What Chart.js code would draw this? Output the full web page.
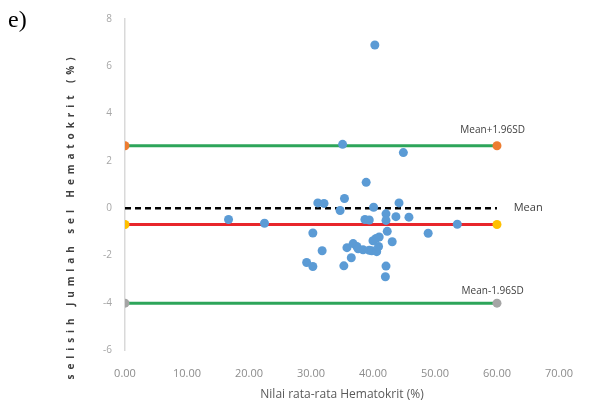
<!DOCTYPE html>
<html lang="en">
<head>
    <meta charset="UTF-8" />
    <title>Bland-Altman Hematokrit</title>
    <script src="https://cdn.jsdelivr.net/npm/chart.js"></script>
    <style>
        body { margin: 0; background: #ffffff; }
        #chart { display: block; }
    </style>
</head>
<body>
    <canvas id="chart" width="590" height="412"></canvas>

    <script>
        // rata-rata Hematokrit (x) dan selisih (y)
        const meanHct = [40.3, 35.1, 44.9, 38.9, 35.4, 31.1, 32.1, 34.7, 40.1, 44.2,
            42.1, 43.7, 45.8, 38.7, 39.4, 16.7, 22.5, 53.6, 42.1, 42.3,
            30.3, 48.9, 40.5, 41.0, 40.0, 43.1, 36.8, 35.8, 37.4, 37.6,
            38.4, 39.4, 39.8, 40.6, 40.9, 31.8, 36.5, 29.3, 30.3, 35.3,
            42.1, 42.0];
        const diffHct = [6.9, 2.7, 2.35, 1.09, 0.41, 0.22, 0.2, -0.1, 0.04, 0.22,
            -0.24, -0.36, -0.38, -0.48, -0.5, -0.48, -0.64, -0.68, -0.52, -0.98,
            -1.05, -1.06, -1.28, -1.22, -1.38, -1.42, -1.5, -1.67, -1.62, -1.72,
            -1.76, -1.78, -1.8, -1.84, -1.62, -1.8, -2.1, -2.3, -2.47, -2.44,
            -2.45, -2.9];

        const lineX = [0, 60];
        const meanDiff = -0.69;
        const upperLimit = 2.64;
        const lowerLimit = -4.02;
        const zeroLine = 0;

        const yTicks = [-6, -4, -2, 0, 2, 4, 6, 8];
        const xTicks = [0, 10, 20, 30, 40, 50, 60, 70];

        const points = meanHct.map((x, i) => ({ x: x, y: diffHct[i] }));
        const flat = v => lineX.map(x => ({ x: x, y: v }));

        const extras = {
            id: 'extras',
            afterDraw(chart) {
                const ctx = chart.ctx;
                const xs = chart.scales.x;
                const ys = chart.scales.y;
                ctx.save();

                ctx.fillStyle = '#000';
                ctx.font = '24px "Liberation Serif"';
                ctx.textBaseline = 'top';
                ctx.fillText('e)', 8, 9);

                // judul sumbu y, huruf direnggangkan
                ctx.translate(71, 216);
                ctx.rotate(-Math.PI / 2);
                ctx.font = 'bold 10px "Open Sans"';
                ctx.letterSpacing = '4.9px';
                ctx.fillStyle = '#404040';
                ctx.textAlign = 'center';
                ctx.textBaseline = 'middle';
                ctx.fillText('selisih Jumlah sel Hematokrit (%)', 0, 0);
                ctx.restore();

                ctx.save();
                ctx.fillStyle = '#404040';
                ctx.textBaseline = 'middle';
                ctx.font = '10px "Open Sans"';
                ctx.textAlign = 'center';
                ctx.fillText('Mean+1.96SD', xs.getPixelForValue(59.3), ys.getPixelForValue(upperLimit) - 16);
                ctx.fillText('Mean-1.96SD', xs.getPixelForValue(59.3), ys.getPixelForValue(lowerLimit) - 12);
                ctx.font = '11px "Open Sans"';
                ctx.textAlign = 'left';
                ctx.fillText('Mean', xs.getPixelForValue(62.7), ys.getPixelForValue(zeroLine));
                ctx.restore();
            }
        };

        new Chart(document.getElementById('chart'), {
            type: 'scatter',
            data: {
                datasets: [
                    {
                        data: points,
                        backgroundColor: '#5B9BD5',
                        borderWidth: 0,
                        pointRadius: 4.5
                    },
                    {
                        data: flat(zeroLine),
                        showLine: true,
                        borderColor: '#000000',
                        borderWidth: 2.5,
                        borderDash: [6, 4],
                        pointRadius: 0
                    },
                    {
                        data: flat(meanDiff),
                        showLine: true,
                        borderColor: '#E8262B',
                        borderWidth: 3,
                        pointBackgroundColor: '#FFC000',
                        pointBorderWidth: 0,
                        pointRadius: 4.5
                    },
                    {
                        data: flat(upperLimit),
                        showLine: true,
                        borderColor: '#2DA55A',
                        borderWidth: 3,
                        pointBackgroundColor: '#ED7D31',
                        pointBorderWidth: 0,
                        pointRadius: 4.5
                    },
                    {
                        data: flat(lowerLimit),
                        showLine: true,
                        borderColor: '#2DA55A',
                        borderWidth: 3,
                        pointBackgroundColor: '#A5A5A5',
                        pointBorderWidth: 0,
                        pointRadius: 4.5
                    }
                ]
            },
            options: {
                responsive: false,
                animation: false,
                layout: { padding: { left: 85, right: 18, top: 17, bottom: 6 } },
                plugins: {
                    legend: { display: false },
                    tooltip: { enabled: false }
                },
                scales: {
                    x: {
                        type: 'linear',
                        min: xTicks[0],
                        max: xTicks[xTicks.length - 1],
                        afterBuildTicks: s => { s.ticks = xTicks.map(v => ({ value: v })); },
                        afterFit: s => { s.height = 56; },
                        grid: { display: false, drawTicks: false },
                        border: { display: false },
                        ticks: {
                            padding: 17,
                            color: '#8C8C8C',
                            font: { size: 11, family: 'Open Sans' },
                            maxRotation: 0,
                            callback: v => v.toFixed(2)
                        },
                        title: {
                            display: true,
                            text: 'Nilai rata-rata Hematokrit (%)',
                            color: '#595959',
                            font: { size: 12, family: 'Open Sans' },
                            padding: { top: 8 }
                        }
                    },
                    y: {
                        type: 'linear',
                        min: yTicks[0],
                        max: yTicks[yTicks.length - 1],
                        afterBuildTicks: s => { s.ticks = yTicks.map(v => ({ value: v })); },
                        afterFit: s => { s.width = 40; },
                        grid: { display: false, drawTicks: false },
                        border: { display: true, color: '#D9D9D9', width: 1.5 },
                        ticks: {
                            padding: 13,
                            color: '#A6A6A6',
                            font: { size: 10, family: 'Open Sans' }
                        }
                    }
                }
            },
            plugins: [extras]
        });
    </script>
</body>
</html>
